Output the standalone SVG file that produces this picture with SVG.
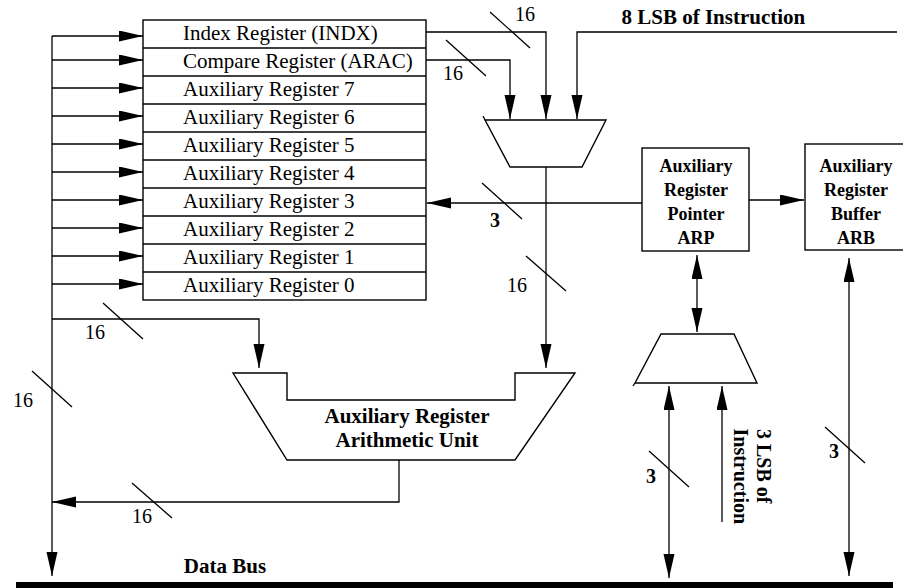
<svg xmlns="http://www.w3.org/2000/svg" width="903" height="588" viewBox="0 0 903 588">
<style>
text{font-family:"Liberation Serif","Times New Roman",serif;fill:#000}
.reg{font-size:21px}
.num{font-size:20px;text-anchor:middle}
.bn{font-size:20px;font-weight:bold;text-anchor:middle}
.b{font-weight:bold}
.box{fill:#fff;stroke:#000;stroke-width:1.4}
.ln{fill:none;stroke:#000;stroke-width:1.3}
.arr{fill:none;stroke:#000;stroke-width:1.3;marker-end:url(#ah)}
.arr2{fill:none;stroke:#000;stroke-width:1.3;marker-end:url(#ah);marker-start:url(#ah)}
</style>
<defs>
<marker id="ah" markerUnits="userSpaceOnUse" markerWidth="25" markerHeight="12" refX="24" refY="5.5" orient="auto-start-reverse">
<path d="M0,0 L24,5.5 L0,11 z" fill="#000"/>
</marker>
</defs>
<rect width="903" height="588" fill="#fff"/>

<g id="registers">
<rect class="box" x="143" y="20" width="283" height="280"/>
<g class="ln">
<line x1="143" y1="48" x2="426" y2="48"/>
<line x1="143" y1="76" x2="426" y2="76"/>
<line x1="143" y1="104" x2="426" y2="104"/>
<line x1="143" y1="132" x2="426" y2="132"/>
<line x1="143" y1="160" x2="426" y2="160"/>
<line x1="143" y1="188" x2="426" y2="188"/>
<line x1="143" y1="216" x2="426" y2="216"/>
<line x1="143" y1="244" x2="426" y2="244"/>
<line x1="143" y1="272" x2="426" y2="272"/>
</g>
<text class="reg" x="183" y="40">Index Register (INDX)</text>
<text class="reg" x="183" y="68">Compare Register (ARAC)</text>
<text class="reg" x="183" y="96">Auxiliary Register 7</text>
<text class="reg" x="183" y="124">Auxiliary Register 6</text>
<text class="reg" x="183" y="152">Auxiliary Register 5</text>
<text class="reg" x="183" y="180">Auxiliary Register 4</text>
<text class="reg" x="183" y="208">Auxiliary Register 3</text>
<text class="reg" x="183" y="236">Auxiliary Register 2</text>
<text class="reg" x="183" y="264">Auxiliary Register 1</text>
<text class="reg" x="183" y="292">Auxiliary Register 0</text>
</g>

<g id="mux1">
<polygon class="box" points="485,120 606,120 582,167 510,167"/>
<line class="ln" x1="485" y1="120" x2="483" y2="116"/>
</g>

<g id="arp">
<rect class="box" x="642" y="148" width="107" height="103"/>
<text class="b" font-size="18" text-anchor="middle" x="696" y="171.5">Auxiliary</text>
<text class="b" font-size="18" text-anchor="middle" x="696" y="195.5">Register</text>
<text class="b" font-size="18" text-anchor="middle" x="696" y="219.5">Pointer</text>
<text class="b" font-size="18" text-anchor="middle" x="696" y="243.5">ARP</text>
</g>

<g id="arb">
<rect class="box" x="805" y="144" width="102" height="106"/>
<text class="b" font-size="18" text-anchor="middle" x="856" y="171.5">Auxiliary</text>
<text class="b" font-size="18" text-anchor="middle" x="856" y="195.5">Register</text>
<text class="b" font-size="18" text-anchor="middle" x="856" y="219.5">Buffer</text>
<text class="b" font-size="18" text-anchor="middle" x="856" y="243.5">ARB</text>
</g>

<g id="mux2">
<polygon class="box" points="661,334 734,334 757,383 635,383"/>
<line class="ln" x1="635" y1="383" x2="633" y2="386"/>
</g>

<g id="arau">
<polygon class="box" points="233,373 287,373 287,400 515,400 515,373 575,373 515,460 287,460"/>
<text class="b" font-size="21" text-anchor="middle" x="407" y="423">Auxiliary Register</text>
<text class="b" font-size="21" text-anchor="middle" x="407" y="446.5">Arithmetic Unit</text>
</g>

<g id="databus">
<rect x="16" y="582" width="877" height="8" fill="#000"/>
<text class="b" font-size="21" text-anchor="middle" x="225" y="573">Data Bus</text>
</g>

<g id="connectors">
<polyline class="arr" points="426,32 546,32 546,119"/>
<polyline class="arr" points="426,60 510,60 510,119"/>
<polyline class="arr" points="897,32 577,32 577,119"/>
<line class="arr" x1="546" y1="167" x2="546" y2="368"/>
<polyline class="arr" points="52,319 259,319 259,368"/>
<polyline class="arr" points="399,460 399,502 52,502"/>
<line class="arr" x1="52" y1="36" x2="52" y2="576"/>
<line class="arr" x1="52" y1="36" x2="143" y2="36"/>
<line class="arr" x1="52" y1="60" x2="143" y2="60"/>
<line class="arr" x1="52" y1="88" x2="143" y2="88"/>
<line class="arr" x1="52" y1="116" x2="143" y2="116"/>
<line class="arr" x1="52" y1="144" x2="143" y2="144"/>
<line class="arr" x1="52" y1="172" x2="143" y2="172"/>
<line class="arr" x1="52" y1="200" x2="143" y2="200"/>
<line class="arr" x1="52" y1="228" x2="143" y2="228"/>
<line class="arr" x1="52" y1="256" x2="143" y2="256"/>
<line class="arr" x1="52" y1="284" x2="143" y2="284"/>
<line class="arr" x1="642" y1="203" x2="427" y2="203"/>
<line class="arr" x1="749" y1="200" x2="804" y2="200"/>
<line class="arr2" x1="697" y1="255" x2="697" y2="332"/>
<line class="arr2" x1="669" y1="386" x2="669" y2="578"/>
<line class="arr" x1="722" y1="522" x2="722" y2="386"/>
<line class="arr2" x1="849" y1="258" x2="849" y2="576"/>

<g class="ln">
<line x1="490" y1="12" x2="530" y2="48"/>
<line x1="446" y1="40" x2="486" y2="76"/>
<line x1="482" y1="183" x2="522" y2="219"/>
<line x1="526" y1="256" x2="566" y2="291"/>
<line x1="103" y1="303" x2="143" y2="339"/>
<line x1="32" y1="371" x2="72" y2="407"/>
<line x1="132" y1="483" x2="172" y2="518"/>
<line x1="649" y1="451" x2="689" y2="487"/>
<line x1="825" y1="427" x2="865" y2="463"/>
</g>
<text class="num" x="525" y="20.5">16</text>
<text class="num" x="453" y="80">16</text>
<text class="bn" x="495" y="227">3</text>
<text class="num" x="517" y="291.5">16</text>
<text class="num" x="95" y="339">16</text>
<text class="num" x="23" y="406.5">16</text>
<text class="num" x="142" y="522.5">16</text>
<text class="bn" x="651" y="482.5">3</text>
<text class="bn" x="834" y="457.5">3</text>
<text class="b" font-size="21" x="621.5" y="23.5">8 LSB of Instruction</text>
<text class="b" font-size="20" transform="translate(757,429) rotate(90)">3 LSB of</text>
<text class="b" font-size="20" transform="translate(734,428.5) rotate(90)">Instruction</text>
</g>
</svg>
